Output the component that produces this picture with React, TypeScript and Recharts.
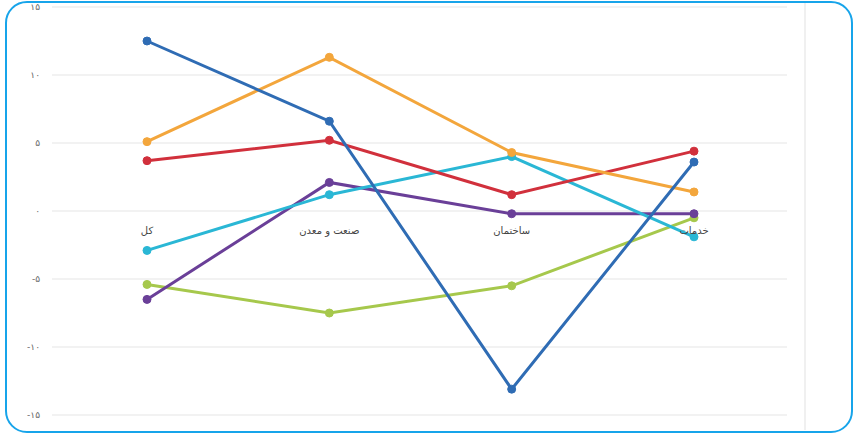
import React from 'react';
import { LineChart, Line, XAxis, YAxis, CartesianGrid, ReferenceDot } from 'recharts';

const categories = ['کل', 'صنعت و معدن', 'ساختمان', 'خدمات'];
const blueValues = [12.5, 6.6, -13.1, 3.6];
const orangeValues = [5.1, 11.3, 4.3, 1.4];
const redValues = [3.7, 5.2, 1.2, 4.4];
const cyanValues = [-2.9, 1.2, 4.0, -1.9];
const purpleValues = [-6.5, 2.1, -0.2, -0.2];
const greenValues = [-5.4, -7.5, -5.5, -0.5];
const yTicks = [15, 10, 5, 0, -5, -10, -15];
const yTickLabels: Record<number, string> = {
  15: '۱۵',
  10: '۱۰',
  5: '۵',
  0: '۰',
  [-5]: '-۵',
  [-10]: '-۱۰',
  [-15]: '-۱۵',
};

const series = [
  { key: 'green', values: greenValues, color: '#a6c84c' },
  { key: 'purple', values: purpleValues, color: '#6a3f98' },
  { key: 'cyan', values: cyanValues, color: '#2ab7d5' },
  { key: 'red', values: redValues, color: '#d1303c' },
  { key: 'orange', values: orangeValues, color: '#f3a63c' },
  { key: 'blue', values: blueValues, color: '#2f6cb4' },
];

const data = categories.map((c, i) => {
  const row: Record<string, string | number> = { name: c };
  series.forEach((s) => {
    row[s.key] = s.values[i];
  });
  return row;
});

export default function App() {
  return (
    <div style={{ position: 'absolute', left: 0, top: 0, width: 858, height: 440, background: '#fff', fontFamily: '"DejaVu Sans", sans-serif' }}>
      <div
        style={{
          position: 'absolute',
          left: 5,
          top: 1,
          width: 844,
          height: 428,
          border: '2.5px solid #17a4ea',
          borderRadius: 22,
        }}
      />
      <div style={{ position: 'absolute', left: 804, top: 3, width: 2, height: 427, background: '#f0f0f0' }} />
      <div style={{ position: 'absolute', left: 0, top: 0 }}>
        <LineChart width={858} height={440} data={data} margin={{ top: 7, right: 71, bottom: 25, left: 8 }}>
          <CartesianGrid vertical={false} stroke="#eeeeee" strokeWidth={1.5} />
          <XAxis dataKey="name" hide padding={{ left: 95, right: 93 }} />
          <YAxis
            width={44}
            domain={[-15, 15]}
            ticks={yTicks}
            axisLine={false}
            tickLine={false}
            tickSize={0}
            tickMargin={12}
            tick={{ fontSize: 9, fill: '#666', fontFamily: '"DejaVu Sans", sans-serif' }}
            tickFormatter={(v: number) => yTickLabels[v] ?? String(v)}
          />
          {series.map((s) => (
            <Line
              key={s.key}
              dataKey={s.key}
              stroke={s.color}
              strokeWidth={3}
              dot={{ r: 4, fill: s.color, stroke: s.color, strokeWidth: 1 }}
              isAnimationActive={false}
            />
          ))}
          {categories.map((c) => (
            <ReferenceDot
              key={c}
              x={c}
              y={0}
              r={0}
              stroke="none"
              fill="none"
              label={{ value: c, position: 'bottom', offset: 16, fontSize: 10, fill: '#444', fontFamily: '"DejaVu Sans", sans-serif' }}
            />
          ))}
        </LineChart>
      </div>
    </div>
  );
}
